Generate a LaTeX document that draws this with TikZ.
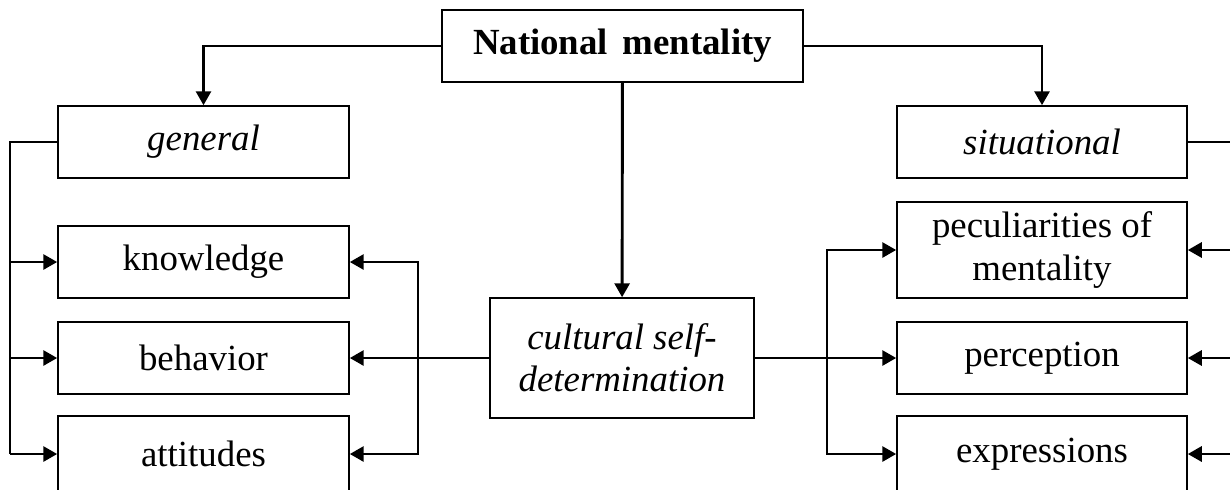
\documentclass[tikz,border=0pt]{standalone}
\usepackage{fontspec}
\setmainfont{Liberation Serif}
\usepackage{tikz}
\usetikzlibrary{arrows.meta,positioning}

\begin{document}
\begin{tikzpicture}[
    x=0.38pt, y=-0.38pt,
    >={Triangle[length=5.3pt,width=5.7pt]},
    font=\fontsize{14}{16}\selectfont,
    box/.style={
		rectangle,
		draw=black,
		line width=0.6pt,
		text centered,
		inner sep=0pt,
		minimum width=291*0.38pt,
		minimum height=72*0.38pt,
		fill=white
	},
	link/.style={
		line width=1.1pt
	}
  ]
  \clip (0,0) rectangle (1230,489);
    % We start by placing the blocks
  \node [box, minimum width=361*0.38pt] (mentality) at (622.5,46) {\textbf{National\hspace{2pt} mentality}};

  \node [box] (general) at (203.5,142) {\textit{general}};
  \node [box] (knowledge) at (203.5,262) {knowledge};
  \node [box] (behavior) at (203.5,358) {behavior};
  \node [box, minimum height=76*0.38pt] (attitudes) at (203.5,454) {attitudes};

  \node [box, minimum width=264*0.38pt, minimum height=120*0.38pt, align=center] (cultural) at (622,358)
 {\textit{cultural self-}\\\textit{determination}};

  \node [box, minimum width=290*0.38pt] (situational) at (1042,142) {\textit{situational}};
  \node [box, minimum width=290*0.38pt, minimum height=96*0.38pt, align=center] (peculiar) at (1042,250)
 {peculiarities of\\mentality};
  \node [box, minimum width=290*0.38pt] (perception) at (1042,358) {perception};
  \node [box, minimum width=290*0.38pt, minimum height=76*0.38pt] (expressions) at (1042,454) {expressions};

  % bus lines
  \coordinate (lbus) at (10,142);
  \coordinate (cleft) at (418,358);
  \coordinate (cright) at (827,358);
  \coordinate (rbus) at (1240,142);

 \draw [link,->] (mentality) -| (general);
 \draw [link,->] (mentality) -| (situational);
 \draw [link,->] (mentality) -- (cultural);

 \draw [link] (general.west) -- (lbus) -- (lbus |- attitudes.west);
 \foreach \n in {knowledge,behavior,attitudes}
   \draw [link,->] (lbus |- \n.west) -- (\n.west);

 \draw [link,->] (cultural) -- (behavior);
 \foreach \n in {knowledge,attitudes}
   \draw [link,->] (cleft) |- (\n);

 \draw [link,->] (cultural) -- (perception);
 \foreach \n in {peculiar,expressions}
   \draw [link,->] (cright) |- (\n);

 \draw [link] (situational.east) -- (rbus);
 \foreach \n in {peculiar,perception,expressions}
   \draw [link,->] (rbus |- \n.east) -- (\n.east);

\end{tikzpicture}
\end{document}
